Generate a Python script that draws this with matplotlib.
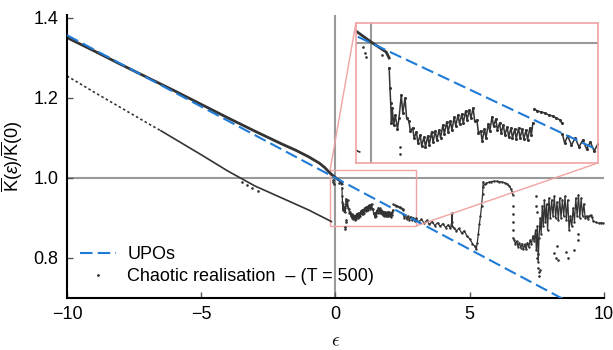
import matplotlib
matplotlib.use("Agg")
import matplotlib.pyplot as plt
from matplotlib.lines import Line2D
from mpl_toolkits.axes_grid1.inset_locator import mark_inset

plt.rcParams["font.family"] = ["Liberation Sans", "DejaVu Sans"]
plt.rcParams["mathtext.fontset"] = "custom"
plt.rcParams["mathtext.rm"] = "Liberation Sans"
plt.rcParams["mathtext.it"] = "Liberation Sans:italic"

UPO_COLOR = "#1f7bd6"
CHAOS_COLOR = "#333333"
GUIDE_COLOR = "#9a9a9a"
INSET_COLOR = "#f0a3a3"

# UPO prediction (dashed)
upo_x = [-10, -5, 0, 5, 10]
upo_y = [1.357, 1.1785, 1.0, 0.8215, 0.643]

# chaotic realisation, upper (dense) branch
upper_x = [-10, -9, -8, -7, -6, -5, -4, -3, -2, -1.5, -1, -0.6, -0.4, -0.2, 0, 0.1, 0.2, 0.24]
upper_y = [1.351, 1.318, 1.284, 1.251, 1.218, 1.184, 1.150, 1.117, 1.085, 1.070,
           1.053, 1.037, 1.026, 1.012, 1.001, 0.996, 0.991, 0.985]

# lower branch (sparse start, dense afterwards)
lower_sparse_x = [-10, -9, -8, -7, -6.5]
lower_sparse_y = [1.255, 1.215, 1.176, 1.137, 1.118]
lower_x = [-6.5, -6, -5, -4, -3, -2, -1, -0.15]
lower_y = [1.118, 1.098, 1.058, 1.017, 0.980, 0.950, 0.920, 0.891]

# noisy band after the drop
band1_x = [0.24, 0.25, 0.26, 0.27, 0.28, 0.30, 0.32, 0.35, 0.37, 0.40, 0.42, 0.45, 0.47,
           0.50, 0.52, 0.55, 0.57, 0.60, 0.62, 0.65, 0.67, 0.70, 0.72, 0.75, 0.77, 0.80,
           0.82, 0.85, 0.87, 0.90, 0.92, 0.95, 0.97, 1.00, 1.02, 1.05, 1.07, 1.10, 1.12,
           1.15, 1.17, 1.20, 1.22, 1.25, 1.27, 1.30, 1.32, 1.35, 1.37, 1.40, 1.42, 1.45,
           1.47, 1.50, 1.52, 1.55, 1.57, 1.60, 1.62, 1.65, 1.67, 1.70, 1.72, 1.75, 1.77,
           1.80, 1.82, 1.85, 1.87, 1.90, 1.92, 1.95, 1.97, 2.00, 2.02, 2.05, 2.07, 2.10,
           2.12, 2.14]
band1_y = [0.975, 0.955, 0.940, 0.920, 0.935, 0.918, 0.928, 0.914, 0.925, 0.948, 0.930,
           0.945, 0.925, 0.922, 0.912, 0.915, 0.905, 0.911, 0.900, 0.908, 0.897, 0.906,
           0.896, 0.907, 0.898, 0.911, 0.901, 0.912, 0.903, 0.913, 0.905, 0.918, 0.909,
           0.921, 0.911, 0.922, 0.913, 0.926, 0.917, 0.928, 0.919, 0.929, 0.920, 0.932,
           0.923, 0.933, 0.925, 0.935, 0.922, 0.923, 0.910, 0.912, 0.902, 0.914, 0.905,
           0.919, 0.912, 0.926, 0.917, 0.924, 0.913, 0.920, 0.910, 0.918, 0.908, 0.916,
           0.906, 0.915, 0.905, 0.914, 0.904, 0.915, 0.905, 0.914, 0.904, 0.913, 0.903,
           0.915, 0.908, 0.920]

bump_x = [2.16, 2.20, 2.25, 2.30, 2.35, 2.40, 2.45, 2.50, 2.52]
bump_y = [0.934, 0.932, 0.931, 0.930, 0.928, 0.927, 0.925, 0.923, 0.920]

band2_x = [2.53, 2.56, 2.60, 2.65, 2.70, 2.75, 2.80, 2.85, 2.90, 2.95, 3.00, 3.10, 3.20,
           3.30, 3.40, 3.50, 3.60, 3.70, 3.80, 3.90, 4.00, 4.10, 4.20, 4.28, 4.33, 4.34,
           4.35, 4.40, 4.50, 4.60, 4.70, 4.80, 4.90, 5.00, 5.10, 5.18, 5.24, 5.28, 5.32,
           5.36, 5.40, 5.44, 5.48, 5.50]
band2_y = [0.909, 0.900, 0.907, 0.898, 0.905, 0.896, 0.903, 0.894, 0.901, 0.892, 0.899,
           0.890, 0.897, 0.887, 0.894, 0.884, 0.891, 0.881, 0.888, 0.879, 0.886, 0.876,
           0.883, 0.874, 0.890, 0.912, 0.880, 0.876, 0.868, 0.874, 0.862, 0.868, 0.854,
           0.848, 0.836, 0.830, 0.822, 0.838, 0.860, 0.885, 0.905, 0.930, 0.960, 0.990]

arc_x = [5.50, 5.55, 5.62, 5.70, 5.80, 5.90, 6.00, 6.10, 6.20, 6.30, 6.40, 6.48, 6.54, 6.58, 6.60]
arc_y = [0.978, 0.984, 0.987, 0.989, 0.991, 0.992, 0.992, 0.991, 0.990, 0.988, 0.985,
         0.980, 0.972, 0.965, 0.958]

right_x = [6.62, 6.66, 6.70, 6.75, 6.80, 6.85, 6.90, 6.95, 7.00, 7.05, 7.10, 7.15, 7.20,
           7.25, 7.30, 7.35, 7.40, 7.45, 7.48, 7.52, 7.55, 7.58, 7.62, 7.66, 7.70, 7.74,
           7.78, 7.82, 7.86, 7.90, 7.95, 8.00, 8.05, 8.10, 8.15, 8.20, 8.25, 8.30, 8.35,
           8.40, 8.45, 8.50, 8.55, 8.60, 8.65, 8.70, 8.75, 8.80, 8.85, 8.90, 8.95, 9.00,
           9.05, 9.10, 9.15, 9.20, 9.25, 9.30, 9.35, 9.40, 9.45, 9.50, 9.55, 9.60, 9.70,
           9.80, 9.90, 9.97]
right_y = [0.850, 0.845, 0.835, 0.842, 0.828, 0.838, 0.826, 0.836, 0.822, 0.834, 0.822,
           0.838, 0.828, 0.845, 0.835, 0.855, 0.842, 0.870, 0.820, 0.880, 0.790, 0.850,
           0.900, 0.860, 0.930, 0.880, 0.945, 0.890, 0.935, 0.870, 0.950, 0.900, 0.945,
           0.905, 0.955, 0.900, 0.940, 0.895, 0.950, 0.900, 0.945, 0.905, 0.955, 0.895,
           0.945, 0.870, 0.905, 0.880, 0.925, 0.890, 0.950, 0.905, 0.958, 0.900, 0.950,
           0.905, 0.935, 0.900, 0.905, 0.898, 0.905, 0.907, 0.902, 0.893, 0.889, 0.887,
           0.888, 0.887]

# isolated points
stray_x = [-3.5, -3.3, -3.1, -2.9, -0.10, -0.08, -0.06, 0.14, 0.35, 0.36, 0.38, 0.385,
           6.60, 6.60, 6.61, 6.61, 7.45, 7.47, 7.50, 7.50, 7.55, 7.55, 7.57, 7.58, 7.60,
           8.15, 8.20, 8.25, 8.28, 8.60, 8.65, 8.90, 9.03, 9.05]
stray_y = [0.990, 0.982, 0.975, 0.968, 0.996, 0.990, 0.986, 0.988, 0.878, 0.872, 0.896,
           0.889, 0.930, 0.910, 0.890, 0.870, 0.955, 0.930, 0.915, 0.800, 0.810, 0.775,
           0.765, 0.755, 0.770, 0.812, 0.800, 0.830, 0.795, 0.815, 0.800, 0.820, 0.845, 0.860]


def draw_series(ax, inset=False):
    ax.axhline(1.0, color=GUIDE_COLOR, lw=1.5, zorder=1)
    ax.axvline(0.0, color=GUIDE_COLOR, lw=1.5, zorder=1)
    ax.plot(upper_x, upper_y, color=CHAOS_COLOR, lw=2.0, zorder=2)
    ax.plot(lower_sparse_x, lower_sparse_y, color=CHAOS_COLOR, lw=1.2,
            dashes=(1.5, 1.5), zorder=2)
    ax.plot(lower_x, lower_y, color=CHAOS_COLOR, lw=1.2, zorder=2)
    band_lw, band_ms = (1.1, 2.4) if inset else (0.9, 1.5)
    for xs, ys in [(band1_x, band1_y), (bump_x, bump_y), (band2_x, band2_y),
                   (arc_x, arc_y), (right_x, right_y)]:
        ax.plot(xs, ys, color=CHAOS_COLOR, lw=band_lw, marker=".", ms=band_ms, zorder=2)
    ax.plot(stray_x, stray_y, ls="none", marker=".", ms=1.8, color=CHAOS_COLOR, zorder=2)
    ax.plot(upo_x, upo_y, color=UPO_COLOR, lw=1.5, dashes=(6, 2.5), zorder=3)


fig = plt.figure(figsize=(6.13, 3.5), dpi=100)
ax = fig.add_axes([0.1093, 0.1486, 0.876, 0.8086])
draw_series(ax)
ax.set_xlim(-10, 10)
ax.set_ylim(0.7, 1.4075)
ax.set_xticks([-10, -5, 0, 5, 10])
ax.set_yticks([0.8, 1.0, 1.2, 1.4])
ax.set_yticklabels(["0.8", "1.0", "1.2", "1.4"])
ax.tick_params(direction="in", length=4, width=1, color="#555555", labelsize=13, pad=6)
for side in ["top", "right"]:
    ax.spines[side].set_visible(False)
for side in ["left", "bottom"]:
    ax.spines[side].set_linewidth(1.5)
ax.set_xlabel(r"$\epsilon$", fontsize=14, labelpad=7, math_fontfamily="cm")
ax.set_ylabel(r"$\overline{\mathrm{K}}(\epsilon)/\overline{\mathrm{K}}(0)$", fontsize=13, labelpad=6)

handles = [
    Line2D([], [], color=UPO_COLOR, lw=1.5, dashes=(6, 2.5)),
    Line2D([], [], ls="none", marker=".", ms=2, color=CHAOS_COLOR),
]
ax.legend(handles, ["UPOs", "Chaotic realisation  \u2013 (T = 500)"], loc="lower left",
          frameon=False, fontsize=13, handlelength=2.0, handletextpad=0.65,
          labelspacing=0.3, borderaxespad=0.3)

axins = ax.inset_axes([0.538, 0.477, 0.4507, 0.4947])
draw_series(axins, inset=True)
axins.set_xlim(-0.2, 3.0)
axins.set_ylim(0.88, 1.02)
axins.set_xticks([])
axins.set_yticks([])
for sp in axins.spines.values():
    sp.set_edgecolor(INSET_COLOR)
    sp.set_linewidth(1.2)
mark_inset(ax, axins, loc1=2, loc2=4, fc="none", ec=INSET_COLOR, lw=1.0)

fig.savefig("out.png", dpi=100)
